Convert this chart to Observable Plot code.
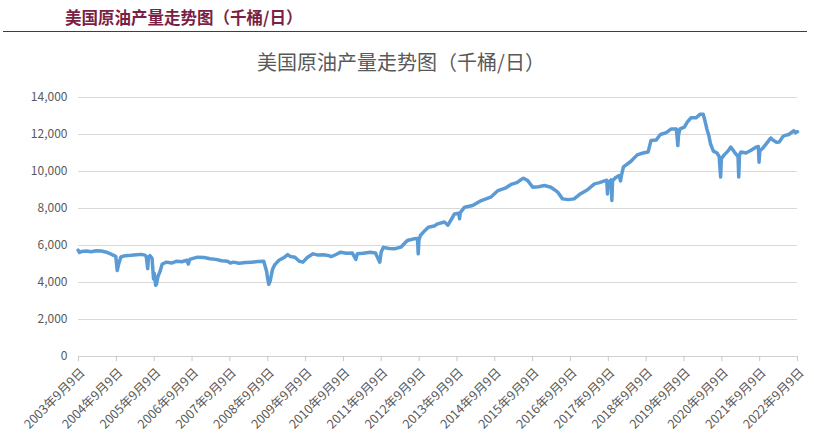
<!DOCTYPE html>
<html><head><meta charset="utf-8">
<script src="https://cdn.jsdelivr.net/npm/d3@7"></script>
<script src="https://cdn.jsdelivr.net/npm/@observablehq/plot@0.6"></script>
<style>
body{margin:0;background:#fff;width:814px;height:445px;overflow:hidden;font-family:"Noto Sans CJK SC","Microsoft YaHei",sans-serif;}
#head{position:relative;height:80px;}
#h1{position:absolute;left:65px;top:9px;font-size:16.5px;line-height:16px;font-weight:bold;color:#7b1f45;white-space:nowrap;}
#rule{position:absolute;left:3px;top:31px;width:804px;height:0;border-top:1.5px solid #7b1f45;}
#title{position:absolute;left:0;width:802px;text-align:center;top:52px;font-size:20px;line-height:20px;color:#595959;white-space:nowrap;}
#chart svg{display:block;}
</style>
</head><body>
<div id="head">
  <div id="h1">美国原油产量走势图（千桶/日）</div>
  <div id="rule"></div>
  <div id="title">美国原油产量走势图（千桶/日）</div>
</div>
<div id="chart"></div>
<script>
const dates = [
"2003-09-05","2003-09-19","2003-10-10","2003-11-21","2004-01-09","2004-02-27","2004-04-16","2004-05-28","2004-07-09","2004-08-13",
"2004-09-03","2004-09-17","2004-10-01","2004-10-22","2004-12-03","2005-01-28","2005-03-25","2005-05-06","2005-06-10","2005-06-24",
"2005-07-08","2005-07-15","2005-07-29","2005-08-19","2005-09-02","2005-09-09","2005-09-23","2005-09-30","2005-10-14","2005-11-04",
"2005-11-25","2006-01-06","2006-02-24","2006-04-14","2006-06-02","2006-07-21","2006-08-04","2006-08-18","2006-10-06","2006-11-03",
"2007-01-05","2007-03-02","2007-04-27","2007-06-22","2007-08-17","2007-09-14","2007-10-12","2007-12-07","2008-02-08","2008-04-04",
"2008-06-06","2008-08-01","2008-08-29","2008-09-05","2008-09-19","2008-10-03","2008-10-24","2008-11-14","2008-12-26","2009-02-13",
"2009-03-20","2009-04-17","2009-05-29","2009-07-10","2009-08-14","2009-09-25","2009-11-20","2010-01-08","2010-02-26","2010-04-16",
"2010-05-14","2010-06-25","2010-08-13","2010-10-08","2010-12-03","2011-01-07","2011-01-21","2011-03-18","2011-05-27","2011-07-15",
"2011-08-26","2011-09-09","2011-09-30","2011-11-25","2012-01-13","2012-03-16","2012-05-18","2012-07-20","2012-08-24","2012-08-31",
"2012-09-07","2012-09-21","2012-11-02","2012-12-07","2013-02-01","2013-03-08","2013-05-10","2013-06-14","2013-07-26","2013-08-16",
"2013-09-27","2013-10-04","2013-10-11","2013-11-22","2014-02-07","2014-05-02","2014-08-01","2014-10-10","2014-12-19","2015-02-13",
"2015-04-10","2015-05-08","2015-06-12","2015-07-24","2015-09-11","2015-11-06","2016-01-01","2016-03-04","2016-05-06","2016-06-24",
"2016-08-19","2016-10-14","2016-12-16","2017-02-17","2017-04-28","2017-06-16","2017-08-25","2017-09-01","2017-09-08","2017-10-06",
"2017-10-13","2017-10-20","2017-11-17","2017-12-22","2018-01-05","2018-01-12","2018-02-02","2018-04-13","2018-06-15","2018-08-10",
"2018-09-28","2018-10-26","2018-12-14","2019-01-25","2019-03-22","2019-05-10","2019-06-28","2019-07-12","2019-07-19","2019-08-02",
"2019-09-13","2019-10-11","2019-11-15","2020-01-03","2020-02-14","2020-03-13","2020-03-27","2020-04-17","2020-05-08","2020-05-22",
"2020-06-19","2020-07-24","2020-08-14","2020-08-28","2020-09-04","2020-10-02","2020-11-06","2020-12-04","2021-01-08","2021-02-12",
"2021-02-19","2021-02-26","2021-03-12","2021-04-30","2021-06-18","2021-07-30","2021-08-27","2021-09-03","2021-09-10","2021-10-15",
"2021-11-26","2021-12-24","2022-01-14","2022-02-18","2022-03-18","2022-04-22","2022-05-13","2022-06-17","2022-07-15","2022-08-05",
"2022-08-19","2022-09-09"
];
const values = [
5750,5620,5680,5700,5660,5720,5700,5650,5560,5470,
5400,4650,5000,5380,5450,5470,5500,5520,5480,5400,
4750,5350,5450,5300,4200,4500,3850,3900,4300,4600,
5000,5100,5050,5150,5120,5200,5000,5250,5330,5370,
5350,5280,5250,5180,5150,5050,5100,5040,5080,5100,
5130,5150,4600,4300,3900,4100,4700,4950,5200,5350,
5510,5400,5370,5150,5100,5350,5550,5480,5500,5460,
5400,5500,5640,5580,5600,5250,5550,5580,5640,5600,
5100,5650,5900,5840,5820,5910,6270,6360,6380,5550,
6300,6540,6800,6990,7050,7170,7270,7100,7500,7710,
7750,7450,7780,8070,8160,8430,8610,8970,9100,9300,
9400,9510,9640,9510,9150,9180,9240,9150,8900,8520,
8480,8520,8800,9000,9330,9400,9530,8790,9350,9550,
8430,9500,9660,9780,9490,9750,10250,10540,10900,11000,
11050,11680,11700,12000,12100,12300,12300,11400,12000,12300,
12400,12670,12900,12900,13100,13100,12800,12300,11900,11500,
11100,11000,10800,9700,10700,10900,11100,11320,11050,10800,
9700,10900,11050,11000,11150,11300,11350,10500,11100,11300,
11600,11810,11700,11580,11600,11900,11950,12000,12120,12200,
12100,12150
];
const tickYears = [2003,2004,2005,2006,2007,2008,2009,2010,2011,2012,2013,2014,2015,2016,2017,2018,2019,2020,2021,2022];
const tickLabels = ["2003年9月9日","2004年9月9日","2005年9月9日","2006年9月9日","2007年9月9日","2008年9月9日","2009年9月9日","2010年9月9日","2011年9月9日","2012年9月9日","2013年9月9日","2014年9月9日","2015年9月9日","2016年9月9日","2017年9月9日","2018年9月9日","2019年9月9日","2020年9月9日","2021年9月9日","2022年9月9日"];
const yTicks = [0,2000,4000,6000,8000,10000,12000,14000];

const data = dates.map((d, i) => ({date: new Date(d), value: values[i]}));
const ticks = tickYears.map((y, i) => ({date: new Date(`${y}-09-09`), label: tickLabels[i]}));

const font = '"Noto Sans CJK SC","Microsoft YaHei",sans-serif';
const chart = Plot.plot({
  width: 814, height: 365,
  marginLeft: 78, marginRight: 17, marginTop: 17, marginBottom: 89,
  x: {type: "utc", domain: [ticks[0].date, ticks[ticks.length - 1].date]},
  y: {domain: [0, 14000]},
  style: {fontFamily: font, fontSize: "12px", color: "#595959", background: "#fff"},
  marks: [
    Plot.ruleY(yTicks.filter(d => d > 0), {stroke: "#d9d9d9", strokeWidth: 1}),
    Plot.ruleY([0], {stroke: "#d0d0d0", strokeWidth: 1}),
    Plot.axisY({ticks: yTicks, tickSize: 0, tickPadding: 11, tickFormat: d3.format(","), label: null, fontSize: 12, fill: "#595959"}),
    Plot.axisX({ticks: ticks.map(t => t.date), tickSize: 5, tickFormat: () => "", label: null, stroke: "#c8c8c8", strokeOpacity: 1}),
    Plot.text(ticks, {x: "date", frameAnchor: "bottom", text: "label", rotate: -45, textAnchor: "end", dx: 7, dy: 17, fill: "#595959", fontSize: 12.5}),
    Plot.line(data, {x: "date", y: "value", stroke: "#5b9bd5", strokeWidth: 3.5, strokeLinejoin: "round", strokeLinecap: "round"})
  ]
});
document.getElementById("chart").append(chart);
</script>
</body></html>
